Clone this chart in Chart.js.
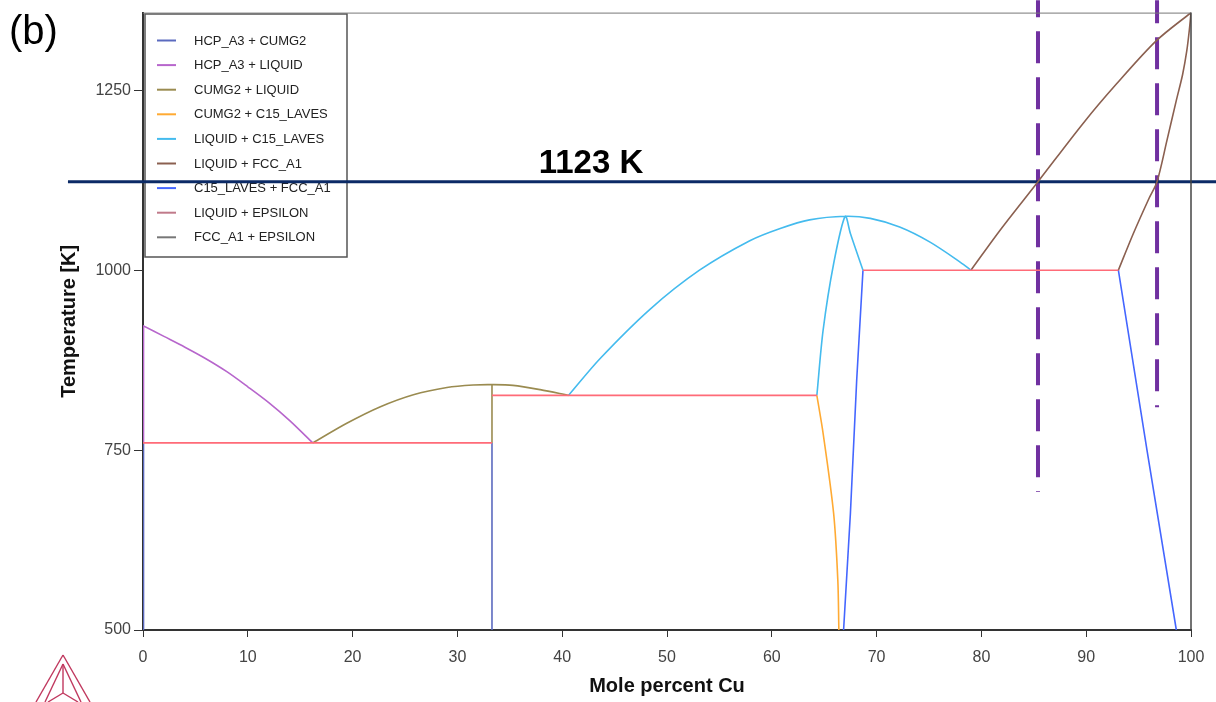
<!DOCTYPE html>
<html><head><meta charset="utf-8">
<script src="https://cdn.jsdelivr.net/npm/chart.js@4.4.0/dist/chart.umd.min.js"></script>
<style>html,body{margin:0;padding:0;background:#fff;}#wrap{position:relative;width:1216px;height:702px;}</style>
</head><body><div id="wrap"><canvas id="c" width="1216" height="702"></canvas></div>
<script>
// ---- axis ticks ----
const xTicks = [0,10,20,30,40,50,60,70,80,90,100];
const yTicks = [500,750,1000,1250];

// ---- legend series ----
const seriesLabels = ['HCP_A3 + CUMG2','HCP_A3 + LIQUID','CUMG2 + LIQUID','CUMG2 + C15_LAVES','LIQUID + C15_LAVES','LIQUID + FCC_A1','C15_LAVES + FCC_A1','LIQUID + EPSILON','FCC_A1 + EPSILON'];
const seriesColors = ['#5b6abf','#b766cc','#9a8b50','#ffaa33','#44bbee','#8b6050','#4466ff','#c07a8a','#777777'];

// ---- phase boundary data [mole % Cu, T (K)], null = break ----
const HCP_CUMG2 = [[0.05,760],[0.05,500],null,[33.3,760],[33.3,500]];
const HCP_LIQUID = [[0,923],[2,908],[4,893],[6,877],[8,859],[10,838],[12,816],[14,791],[16.2,760],null,[0.05,923],[0.05,760]];
const CUMG2_LIQUID = [[16.2,760],[19.4,787],[22.6,810],[25.8,827],[29.0,837],[31.5,840.5],[33.3,841],[35.3,840],[37.9,834],[40.6,826],null,[33.3,841],[33.3,760]];
const CUMG2_C15 = [[64.3,826],[64.9,773],[65.9,662],[66.3,569],[66.4,500]];
const LIQUID_C15 = [[40.6,826],[43.6,877],[48.4,946],[53.1,1000],[57.9,1041],[60.8,1058],[63.6,1070],[67.0,1075],[69.4,1072],[72.2,1060],[75.1,1039],[78.0,1011],[79.0,1000],null,[64.3,826],[64.9,917],[65.9,1009],[67.0,1075],[67.5,1051],[68.7,1000]];
const LIQUID_FCC = [[79.0,1000],[81.8,1056],[85.4,1123],[89.7,1204],[92.9,1259],[96.7,1319],[100,1358],null,[93.07,1000],[94.5,1051],[96.0,1100],[96.76,1123],[97.7,1180],[98.6,1236],[99.2,1272],[99.6,1305],[99.85,1335],[100,1358]];
const C15_FCC = [[68.7,1000],[68.1,847],[67.5,662],[66.85,500],null,[93.07,1000],[95.8,750],[98.6,500]];
const LIQUID_EPSILON = [];
const FCC_EPSILON = [];
const INVARIANTS = [[0,760],[33.3,760],null,[33.3,826],[64.3,826],null,[68.7,1000],[93.07,1000]];

// ---- annotations ----
const ISOTHERM = [[-7.16,1123],[102.4,1123]];
const ISOTHERM_LABEL = '1123 K';
const DASH_A = [[85.4,1375],[85.4,691.7]];
const DASH_B = [[96.76,1375],[96.76,809.7]];

const seriesData = [HCP_CUMG2,HCP_LIQUID,CUMG2_LIQUID,CUMG2_C15,LIQUID_C15,LIQUID_FCC,C15_FCC,LIQUID_EPSILON,FCC_EPSILON];
const curved = [false,true,true,true,true,true,false,false,false];

function pts(arr){ return arr.map(p => p ? {x:p[0], y:p[1]} : {x:null, y:null}); }

const datasets = seriesData.map((d,i) => ({
  label: seriesLabels[i], data: pts(d), borderColor: seriesColors[i], borderWidth: 1.6,
  showLine: true, pointRadius: 0, tension: curved[i] ? 0.3 : 0, spanGaps: false, inLegend: true
}));
datasets.unshift({label:'invariant', data: pts(INVARIANTS), borderColor:'#ff6b78', borderWidth:1.6, showLine:true, pointRadius:0, tension:0, spanGaps:false});
datasets.push({label:'isotherm', data: pts(ISOTHERM), borderColor:'#0b2a66', borderWidth:3, showLine:true, pointRadius:0, clip:false});
datasets.push({label:'dashA', data: pts(DASH_A), borderColor:'#7030a0', borderWidth:4, borderDash:[32,14], borderDashOffset:15, showLine:true, pointRadius:0, clip:false, borderCapStyle:'butt'});
datasets.push({label:'dashB', data: pts(DASH_B), borderColor:'#7030a0', borderWidth:4, borderDash:[32,14], borderDashOffset:9, showLine:true, pointRadius:0, clip:false, borderCapStyle:'butt'});

const FONT = 'Liberation Sans, Arial, sans-serif';

const extras = {
  id: 'extras',
  beforeDatasetsDraw(chart) {
    const ctx = chart.ctx;
    ctx.save();
    // legend box
    const bx = 145, by = 14, bw = 202, bh = 243;
    ctx.fillStyle = '#fff';
    ctx.fillRect(bx, by, bw, bh);
    ctx.strokeStyle = '#555'; ctx.lineWidth = 1.5;
    ctx.strokeRect(bx, by, bw, bh);
    ctx.font = '13px ' + FONT;
    ctx.textBaseline = 'middle'; ctx.textAlign = 'left';
    chart.data.datasets.filter(d => d.inLegend).forEach((d, i) => {
      const y = 40.5 + i * 24.6;
      ctx.strokeStyle = d.borderColor; ctx.lineWidth = 2;
      ctx.beginPath(); ctx.moveTo(157, y); ctx.lineTo(176, y); ctx.stroke();
      ctx.fillStyle = '#222';
      ctx.fillText(d.label, 194, y + 0.5);
    });
    ctx.restore();
  },
  afterDraw(chart) {
    const ctx = chart.ctx, a = chart.chartArea;
    const xs = chart.scales.x, ys = chart.scales.y;
    ctx.save();
    // frame top & right
    ctx.strokeStyle = '#777'; ctx.lineWidth = 1;
    ctx.beginPath(); ctx.moveTo(a.left, a.top + 0.5); ctx.lineTo(a.right, a.top + 0.5); ctx.stroke();
    ctx.strokeStyle = '#444'; ctx.lineWidth = 1.5;
    ctx.beginPath(); ctx.moveTo(a.right, a.top); ctx.lineTo(a.right, a.bottom); ctx.stroke();
    // isotherm label
    ctx.fillStyle = '#000';
    ctx.font = 'bold 33px ' + FONT;
    ctx.textAlign = 'center'; ctx.textBaseline = 'alphabetic';
    ctx.fillText(ISOTHERM_LABEL, xs.getPixelForValue(42.75), ys.getPixelForValue(1123) - 9);
    // panel label
    ctx.font = '40px ' + FONT;
    ctx.textAlign = 'left';
    ctx.fillText('(b)', 9, 44);
    // logo
    ctx.strokeStyle = '#c0385e'; ctx.lineWidth = 1.4;
    const L = (x1,y1,x2,y2) => { ctx.beginPath(); ctx.moveTo(x1,y1); ctx.lineTo(x2,y2); ctx.stroke(); };
    L(63,655,36,702); L(63,655,90,702);
    L(63,664,45,702); L(63,664,81,702);
    L(63,664,63,693);
    L(63,693,48,702); L(63,693,78,702);
    ctx.restore();
  }
};

new Chart(document.getElementById('c'), {
  type: 'scatter',
  data: { datasets },
  options: {
    responsive: false, animation: false,
    layout: { padding: { left: 0, top: 12, right: 25, bottom: 0 } },
    plugins: { legend: { display: false }, tooltip: { enabled: false } },
    scales: {
      x: {
        type: 'linear', min: 0, max: 100,
        afterBuildTicks: s => { s.ticks = xTicks.map(v => ({ value: v })); },
        afterFit: s => { s.height = 72; },
        grid: { drawOnChartArea: false, drawTicks: true, tickLength: 7, color: '#333', lineWidth: 1 },
        border: { display: true, color: '#333', width: 2 },
        ticks: { font: { family: FONT, size: 16 }, color: '#444', padding: 11, maxRotation: 0, autoSkip: false, callback: v => String(v) },
        title: { display: true, text: 'Mole percent Cu', font: { family: FONT, size: 20, weight: 'bold' }, color: '#111', padding: { top: 0, bottom: 4 } }
      },
      y: {
        type: 'linear', min: 500, max: 1358,
        afterBuildTicks: s => { s.ticks = yTicks.map(v => ({ value: v })); },
        afterFit: s => { s.width = 143; },
        grid: { drawOnChartArea: false, drawTicks: true, tickLength: 9, color: '#333', lineWidth: 1 },
        border: { display: true, color: '#333', width: 2 },
        ticks: { font: { family: FONT, size: 16 }, color: '#444', padding: 3, callback: v => String(v) },
        title: { display: true, text: 'Temperature [K]', font: { family: FONT, size: 20, weight: 'bold' }, color: '#111', padding: { top: 57, bottom: 0 } }
      }
    }
  },
  plugins: [extras]
});
</script></body></html>
